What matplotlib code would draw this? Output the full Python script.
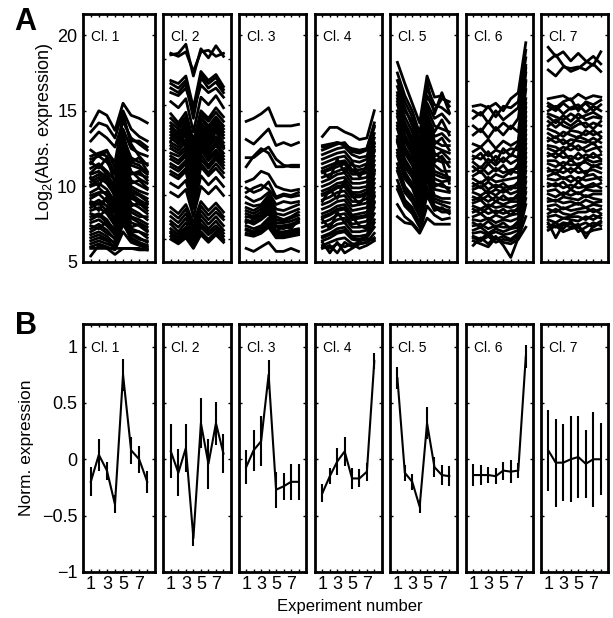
import matplotlib
matplotlib.use('Agg')
import matplotlib.pyplot as plt

plt.rcParams['font.family'] = ['Liberation Sans', 'DejaVu Sans']
plt.rcParams['mathtext.fontset'] = 'custom'
plt.rcParams['mathtext.rm'] = 'Liberation Sans'
plt.rcParams['mathtext.it'] = 'Liberation Sans:italic'

experiments = [1, 2, 3, 4, 5, 6, 7, 8]
cluster_labels = ['Cl. 1', 'Cl. 2', 'Cl. 3', 'Cl. 4', 'Cl. 5', 'Cl. 6', 'Cl. 7']
xtick_labels = ['1', '', '3', '', '5', '', '7', '']

abs_cl1 = [
    [14.0, 15.0, 14.7, 13.7, 15.5, 14.7, 14.5, 14.2],
    [13.6, 14.2, 14.0, 13.2, 15.0, 13.8, 13.3, 13.0],
    [13.0, 13.6, 13.2, 12.6, 14.3, 13.2, 12.8, 12.4],
    [12.0, 12.2, 12.4, 11.2, 13.8, 12.5, 12.2, 12.0],
    [11.8, 12.0, 11.6, 10.8, 13.2, 11.9, 11.6, 11.5],
    [11.2, 11.5, 11.0, 10.4, 12.6, 11.4, 11.2, 10.8],
    [10.8, 11.0, 10.6, 9.8, 12.2, 11.0, 10.5, 10.2],
    [10.3, 10.6, 10.2, 9.4, 11.8, 10.4, 10.1, 9.8],
    [10.0, 10.2, 9.8, 9.0, 11.2, 10.0, 9.7, 9.5],
    [9.6, 9.9, 9.4, 8.6, 10.8, 9.6, 9.4, 9.0],
    [9.2, 9.5, 9.0, 8.2, 10.5, 9.2, 9.0, 8.6],
    [8.8, 9.1, 8.7, 7.8, 10.0, 8.9, 8.6, 8.2],
    [8.4, 8.6, 8.2, 7.4, 9.6, 8.5, 8.2, 7.8],
    [8.0, 8.2, 7.8, 7.0, 9.2, 8.0, 7.8, 7.5],
    [7.6, 7.8, 7.4, 6.8, 8.8, 7.6, 7.4, 7.0],
    [7.2, 7.5, 7.1, 6.5, 8.4, 7.2, 7.0, 6.6],
    [6.8, 7.0, 6.7, 6.2, 8.0, 6.9, 6.6, 6.3],
    [6.4, 6.6, 6.4, 6.0, 7.5, 6.6, 6.3, 6.1],
    [6.0, 6.2, 6.0, 5.8, 7.0, 6.3, 6.1, 5.9],
    [5.4, 6.1, 5.9, 5.5, 5.9, 5.9, 5.9, 5.8],
    [5.9, 5.9, 5.9, 5.9, 5.9, 5.9, 5.8, 5.8],
    [11.5, 12.2, 12.0, 10.8, 14.8, 12.8, 12.0, 11.4],
    [10.6, 10.0, 11.0, 9.2, 12.8, 10.8, 11.0, 10.4],
    [8.9, 8.4, 9.3, 7.6, 11.0, 9.4, 8.8, 8.9],
    [11.6, 11.2, 11.9, 10.2, 13.5, 11.6, 11.9, 11.0],
    [10.9, 11.4, 10.8, 10.0, 12.9, 10.9, 10.8, 10.6],
    [10.1, 10.4, 10.6, 9.6, 12.4, 10.2, 10.4, 9.9],
    [9.4, 9.6, 9.6, 8.8, 11.5, 9.8, 9.5, 9.2],
    [9.0, 8.8, 9.2, 8.4, 10.9, 9.5, 9.1, 8.8],
    [8.6, 8.9, 8.4, 7.9, 10.3, 8.7, 8.9, 8.4],
    [8.2, 8.0, 8.5, 7.6, 9.9, 8.3, 8.0, 8.0],
    [7.8, 8.1, 7.6, 7.2, 9.4, 7.9, 7.6, 7.3],
    [7.4, 7.2, 7.7, 6.9, 9.0, 7.3, 7.5, 7.1],
    [7.0, 7.3, 6.9, 6.6, 8.6, 7.0, 7.0, 6.8],
    [6.6, 6.8, 6.5, 6.3, 8.2, 6.8, 6.5, 6.4],
    [6.2, 6.4, 6.2, 6.0, 7.8, 6.4, 6.2, 6.0],
    [12.4, 12.0, 12.3, 11.6, 14.5, 13.0, 13.0, 12.6],
    [10.5, 10.8, 10.4, 9.6, 13.2, 11.6, 11.4, 10.9],
]

abs_cl2 = [
    [18.7, 18.8, 19.4, 17.3, 19.1, 18.5, 19.3, 18.6],
    [18.8, 18.6, 18.9, 17.6, 18.9, 19.0, 18.6, 18.8],
    [17.0, 16.8, 17.3, 15.2, 17.6, 17.0, 17.4, 16.6],
    [16.5, 16.2, 16.8, 14.5, 17.2, 16.5, 16.9, 16.2],
    [16.2, 16.0, 16.5, 15.0, 16.7, 16.2, 16.5, 15.9],
    [14.8, 14.2, 14.9, 13.0, 15.0, 14.5, 15.2, 14.6],
    [14.5, 14.0, 14.6, 12.6, 14.8, 14.3, 14.9, 14.3],
    [14.0, 13.5, 14.2, 12.0, 14.5, 13.8, 14.4, 13.8],
    [13.6, 13.2, 13.8, 11.4, 14.0, 13.4, 14.0, 13.4],
    [13.2, 12.8, 13.4, 10.8, 13.6, 13.0, 13.6, 12.9],
    [12.7, 12.4, 12.9, 10.2, 13.2, 12.6, 13.1, 12.5],
    [12.2, 12.0, 12.4, 9.8, 12.8, 12.1, 12.7, 12.0],
    [11.8, 11.5, 12.0, 9.4, 12.4, 11.7, 12.2, 11.6],
    [11.3, 11.0, 11.5, 9.0, 11.8, 11.2, 11.8, 11.2],
    [10.8, 10.5, 11.0, 8.8, 11.3, 10.7, 11.2, 10.6],
    [10.2, 9.9, 10.4, 8.5, 10.7, 10.1, 10.6, 10.0],
    [9.6, 9.3, 9.8, 8.0, 10.0, 9.5, 10.0, 9.4],
    [8.6, 8.2, 8.8, 7.6, 9.0, 8.4, 8.9, 8.3],
    [8.0, 7.6, 8.2, 7.2, 8.4, 7.8, 8.3, 7.8],
    [7.5, 7.0, 7.6, 6.6, 7.8, 7.2, 7.7, 7.1],
    [7.0, 6.6, 7.1, 6.3, 7.3, 6.8, 7.2, 6.7],
    [6.5, 6.2, 6.6, 5.9, 6.8, 6.3, 6.8, 6.3],
    [6.9, 6.4, 6.9, 6.2, 7.0, 6.5, 7.0, 6.5],
    [13.0, 13.8, 12.6, 11.8, 13.4, 12.4, 13.8, 12.6],
    [14.2, 13.8, 14.4, 12.3, 14.6, 14.0, 14.6, 14.0],
    [13.8, 13.4, 14.0, 11.7, 14.2, 13.6, 14.2, 13.6],
    [13.4, 13.0, 13.6, 11.1, 13.8, 13.2, 13.8, 13.2],
    [12.9, 12.6, 13.1, 10.5, 13.4, 12.8, 13.3, 12.7],
    [12.5, 12.2, 12.6, 10.0, 13.0, 12.3, 12.9, 12.2],
    [12.0, 11.7, 12.2, 9.6, 12.6, 11.9, 12.4, 11.8],
    [11.5, 11.2, 11.7, 9.2, 12.1, 11.4, 12.0, 11.4],
    [11.0, 10.7, 11.2, 8.9, 11.5, 10.9, 11.5, 10.9],
    [8.3, 7.9, 8.5, 7.4, 8.7, 8.1, 8.6, 8.0],
    [7.7, 7.3, 7.9, 6.9, 8.1, 7.5, 8.0, 7.4],
    [7.2, 6.8, 7.3, 6.4, 7.5, 7.0, 7.4, 6.9],
    [6.7, 6.3, 6.8, 6.1, 7.0, 6.4, 6.9, 6.4],
    [16.8, 16.5, 17.0, 14.8, 17.4, 16.8, 17.2, 16.4],
    [15.6, 15.2, 15.8, 13.6, 15.9, 15.4, 16.0, 15.2],
]

abs_cl3 = [
    [14.3, 14.5, 14.8, 15.2, 14.0, 14.0, 14.0, 14.1],
    [13.1, 12.8, 13.3, 13.8, 12.7, 12.9, 12.7, 12.9],
    [11.9, 11.9, 12.3, 12.6, 11.8, 11.4, 11.3, 11.3],
    [11.3, 12.0, 12.5, 12.2, 11.3, 11.3, 11.4, 11.4],
    [10.3, 10.5, 11.0, 10.8, 10.0, 9.8, 9.7, 9.8],
    [9.9, 9.6, 9.8, 10.3, 9.3, 9.5, 9.4, 9.6],
    [9.6, 9.9, 10.1, 9.8, 9.2, 9.4, 9.3, 9.4],
    [9.3, 9.0, 9.2, 9.6, 8.8, 9.0, 8.9, 9.0],
    [8.9, 8.7, 8.8, 9.4, 8.5, 8.4, 8.6, 8.8],
    [8.4, 8.2, 8.5, 9.0, 8.0, 7.8, 8.0, 8.3],
    [8.0, 7.9, 8.1, 8.6, 7.6, 7.6, 7.7, 7.9],
    [7.6, 7.8, 8.0, 8.3, 7.0, 7.4, 7.2, 7.8],
    [7.7, 7.5, 7.8, 8.2, 7.3, 7.2, 7.4, 7.6],
    [7.4, 7.2, 7.4, 7.9, 7.0, 7.0, 7.1, 7.2],
    [7.1, 6.9, 7.1, 7.6, 6.8, 6.8, 6.9, 7.0],
    [6.8, 6.7, 6.9, 7.3, 6.6, 6.6, 6.7, 6.8],
    [5.9, 5.7, 6.0, 6.3, 5.7, 5.7, 5.9, 5.7],
    [8.6, 8.4, 8.7, 9.2, 8.2, 8.1, 8.3, 8.5],
    [8.2, 8.0, 8.3, 8.8, 7.8, 7.7, 7.9, 8.1],
    [7.8, 7.6, 7.9, 8.4, 7.4, 7.4, 7.5, 7.7],
    [7.2, 7.0, 7.3, 7.8, 6.9, 6.9, 7.0, 7.1],
    [6.9, 6.8, 7.0, 7.4, 6.7, 6.7, 6.8, 6.9],
]

abs_cl4 = [
    [13.3, 13.9, 13.9, 13.6, 13.4, 13.1, 13.2, 15.0],
    [12.7, 12.8, 12.9, 12.7, 12.5, 12.4, 12.5, 14.2],
    [12.4, 12.6, 12.8, 12.9, 12.3, 12.2, 12.4, 13.9],
    [12.1, 12.3, 12.5, 12.6, 12.1, 11.9, 12.0, 13.5],
    [11.8, 12.0, 12.2, 12.3, 11.7, 11.6, 11.8, 13.2],
    [11.5, 11.7, 11.9, 12.0, 11.4, 11.3, 11.5, 12.9],
    [11.2, 11.4, 11.6, 11.7, 11.1, 11.1, 11.2, 12.6],
    [10.9, 11.1, 11.3, 11.5, 10.8, 10.8, 10.9, 12.3],
    [10.6, 10.8, 11.0, 11.2, 10.5, 10.5, 10.6, 12.0],
    [10.3, 10.5, 10.8, 10.9, 10.2, 10.2, 10.3, 11.7],
    [10.0, 10.2, 10.5, 10.6, 9.9, 9.9, 10.0, 11.4],
    [9.7, 9.9, 10.2, 10.3, 9.6, 9.6, 9.8, 11.1],
    [9.4, 9.6, 9.9, 10.0, 9.3, 9.3, 9.5, 10.8],
    [9.1, 9.3, 9.6, 9.7, 9.0, 9.0, 9.2, 10.5],
    [8.8, 9.0, 9.3, 9.4, 8.7, 8.8, 8.9, 10.2],
    [8.5, 8.7, 9.0, 9.1, 8.4, 8.5, 8.6, 9.9],
    [8.2, 8.4, 8.7, 8.8, 8.1, 8.2, 8.3, 9.6],
    [7.9, 8.1, 8.4, 8.5, 7.8, 7.9, 8.0, 9.3],
    [7.6, 7.8, 8.1, 8.2, 7.5, 7.6, 7.7, 9.0],
    [7.3, 7.5, 7.8, 7.9, 7.3, 7.3, 7.4, 8.6],
    [7.0, 7.2, 7.5, 7.6, 7.0, 7.0, 7.1, 8.2],
    [6.7, 6.9, 7.2, 7.3, 6.7, 6.7, 6.8, 7.8],
    [6.4, 6.6, 6.9, 7.0, 6.5, 6.4, 6.6, 7.3],
    [6.1, 6.3, 6.5, 6.6, 6.2, 6.2, 6.3, 6.9],
    [6.0, 5.9, 6.2, 6.0, 6.2, 5.9, 6.1, 6.4],
    [6.3, 5.6, 6.3, 5.6, 5.9, 6.2, 6.3, 6.6],
    [5.9, 6.1, 5.6, 6.3, 6.0, 6.4, 6.5, 6.5],
    [11.0, 10.5, 11.8, 10.9, 11.6, 10.6, 11.4, 12.8],
    [9.0, 9.8, 9.2, 10.4, 9.4, 8.8, 9.6, 11.0],
    [7.8, 7.2, 8.3, 7.6, 8.0, 7.4, 7.2, 8.9],
    [12.6, 12.7, 12.9, 12.8, 12.4, 12.3, 12.5, 14.0],
    [11.0, 11.2, 11.5, 11.6, 11.0, 10.9, 11.0, 12.4],
    [9.5, 9.7, 10.0, 10.1, 9.5, 9.4, 9.6, 11.0],
    [8.0, 8.2, 8.5, 8.6, 8.0, 8.0, 8.1, 9.4],
    [6.6, 6.8, 7.0, 7.1, 6.6, 6.5, 6.7, 7.6],
]

abs_cl5 = [
    [18.2, 16.8, 15.5, 14.2, 17.3, 15.9, 16.0, 15.3],
    [17.0, 15.6, 14.6, 13.0, 16.0, 15.0, 15.8, 15.6],
    [16.6, 15.2, 14.0, 12.6, 15.5, 14.5, 14.8, 14.2],
    [16.2, 14.6, 13.6, 12.2, 15.2, 14.0, 13.8, 13.6],
    [15.8, 14.2, 13.2, 11.8, 14.8, 13.3, 13.5, 13.0],
    [15.4, 13.8, 12.8, 11.4, 14.6, 13.0, 12.7, 12.7],
    [15.0, 13.4, 12.5, 11.0, 14.2, 12.6, 12.4, 12.2],
    [14.6, 13.0, 12.1, 10.7, 13.8, 12.0, 12.3, 11.8],
    [14.2, 12.6, 11.8, 10.4, 13.4, 11.8, 11.6, 11.6],
    [13.8, 12.2, 11.4, 10.0, 13.0, 11.4, 11.0, 11.0],
    [13.3, 11.8, 11.0, 9.6, 12.6, 11.0, 10.8, 10.6],
    [12.9, 11.3, 10.6, 9.3, 12.2, 10.5, 10.3, 10.4],
    [12.4, 10.9, 10.2, 9.0, 11.8, 10.2, 10.0, 9.9],
    [12.0, 10.5, 9.9, 8.6, 11.4, 9.8, 9.7, 9.6],
    [11.5, 10.0, 9.4, 8.3, 11.0, 9.4, 9.2, 9.2],
    [11.0, 9.6, 9.0, 8.0, 10.5, 9.0, 8.8, 8.6],
    [10.4, 9.1, 8.6, 7.6, 10.0, 8.7, 8.5, 8.4],
    [9.8, 8.7, 8.2, 7.3, 9.4, 8.4, 8.6, 8.2],
    [8.8, 8.0, 7.6, 7.0, 8.7, 8.1, 7.8, 7.9],
    [8.0, 7.6, 7.5, 6.9, 7.9, 7.5, 7.5, 7.5],
    [16.0, 15.0, 14.3, 12.4, 16.9, 14.8, 16.2, 14.9],
    [13.0, 11.0, 10.0, 9.5, 14.0, 12.2, 11.8, 10.2],
    [17.5, 16.0, 15.0, 13.5, 16.5, 15.4, 15.2, 14.8],
    [15.6, 14.0, 13.0, 11.6, 14.7, 13.6, 14.4, 13.4],
    [14.8, 13.2, 12.3, 10.9, 14.0, 12.8, 13.2, 12.4],
    [14.0, 12.4, 11.6, 10.2, 13.2, 11.6, 12.0, 11.3],
    [13.1, 11.6, 10.8, 9.5, 12.4, 10.8, 10.6, 10.5],
    [12.2, 10.7, 10.0, 8.8, 11.6, 10.0, 10.2, 9.7],
    [11.2, 9.8, 9.2, 8.2, 10.8, 9.2, 9.0, 8.9],
    [10.0, 8.9, 8.4, 7.4, 9.7, 8.6, 8.3, 8.3],
]

abs_cl6 = [
    [15.3, 15.4, 15.2, 15.5, 15.0, 15.8, 16.2, 19.5],
    [15.0, 14.7, 15.3, 14.6, 15.3, 15.2, 15.6, 19.0],
    [14.5, 14.9, 14.2, 15.0, 14.4, 14.8, 15.2, 18.5],
    [14.0, 13.6, 14.3, 13.7, 14.2, 13.8, 14.5, 18.0],
    [13.4, 13.8, 13.2, 13.9, 13.4, 14.0, 13.6, 17.5],
    [12.8, 12.6, 13.1, 12.5, 13.0, 12.7, 13.0, 17.0],
    [12.0, 11.8, 12.3, 11.6, 12.5, 12.0, 12.8, 17.8],
    [12.3, 12.6, 12.0, 12.4, 12.2, 12.5, 12.4, 16.4],
    [11.6, 11.2, 11.8, 11.4, 11.9, 11.5, 11.8, 15.8],
    [11.0, 11.3, 10.8, 11.2, 10.9, 11.1, 11.2, 15.2],
    [10.5, 10.2, 10.6, 10.3, 10.4, 10.5, 10.6, 14.6],
    [10.0, 10.3, 9.8, 10.1, 9.9, 10.0, 10.1, 14.0],
    [9.6, 9.4, 9.7, 9.4, 9.8, 9.5, 9.7, 13.4],
    [9.1, 9.3, 9.0, 9.3, 9.1, 9.2, 9.2, 12.8],
    [8.7, 8.5, 8.8, 8.6, 8.7, 8.6, 8.8, 12.2],
    [8.3, 8.5, 8.2, 8.4, 8.2, 8.4, 8.4, 11.6],
    [7.8, 7.7, 7.9, 7.6, 7.8, 7.7, 7.9, 11.0],
    [7.4, 7.5, 7.2, 7.4, 7.3, 7.3, 7.5, 10.3],
    [6.9, 7.0, 6.8, 7.0, 6.8, 6.9, 7.1, 9.6],
    [6.6, 6.4, 6.7, 6.3, 6.5, 6.4, 6.7, 8.8],
    [6.1, 6.6, 6.2, 6.7, 6.1, 5.3, 6.6, 8.0],
    [6.4, 6.2, 6.0, 6.6, 6.3, 6.2, 6.5, 7.3],
    [11.8, 12.2, 11.5, 12.0, 11.6, 12.1, 11.9, 16.9],
    [11.3, 10.9, 11.5, 11.0, 11.4, 10.8, 11.5, 15.5],
    [10.7, 11.0, 10.4, 10.8, 10.6, 11.0, 10.9, 14.9],
    [10.2, 9.9, 10.3, 9.9, 10.2, 9.8, 10.3, 14.3],
    [9.8, 10.0, 9.5, 9.8, 9.6, 9.9, 9.9, 13.7],
    [9.3, 9.1, 9.4, 9.0, 9.4, 9.0, 9.5, 13.1],
    [8.9, 9.1, 8.6, 9.0, 8.8, 9.0, 9.0, 12.5],
    [8.5, 8.2, 8.6, 8.2, 8.5, 8.1, 8.6, 11.9],
    [8.0, 8.2, 7.8, 8.1, 7.9, 8.1, 8.2, 11.3],
    [7.6, 7.3, 7.7, 7.3, 7.6, 7.2, 7.7, 10.6],
    [7.1, 7.3, 6.9, 7.2, 7.0, 7.2, 7.3, 9.9],
    [6.7, 6.5, 6.9, 6.5, 6.7, 6.5, 6.9, 9.2],
]

abs_cl7 = [
    [19.2, 18.6, 18.9, 18.3, 18.8, 18.3, 18.0, 18.9],
    [18.3, 18.7, 18.0, 17.6, 17.8, 18.2, 18.6, 18.1],
    [17.7, 17.3, 17.9, 17.8, 17.9, 17.7, 18.1, 17.6],
    [15.8, 15.9, 16.0, 15.7, 16.1, 15.8, 16.0, 15.9],
    [15.5, 15.2, 15.6, 15.8, 15.0, 15.6, 15.4, 15.7],
    [15.0, 15.3, 14.8, 15.2, 15.4, 14.9, 15.3, 15.0],
    [14.6, 14.2, 14.7, 14.3, 14.8, 14.4, 14.6, 14.5],
    [14.0, 14.4, 14.0, 13.8, 14.1, 14.2, 13.8, 14.3],
    [13.5, 13.2, 13.6, 13.4, 13.2, 13.7, 13.4, 13.6],
    [13.0, 13.3, 12.8, 13.1, 13.0, 12.9, 13.2, 12.9],
    [12.5, 12.3, 12.6, 12.4, 12.7, 12.3, 12.5, 12.6],
    [12.0, 12.2, 11.9, 12.0, 11.8, 12.1, 11.9, 12.1],
    [11.5, 11.3, 11.6, 11.4, 11.5, 11.6, 11.3, 11.5],
    [11.0, 11.1, 10.9, 11.2, 10.9, 11.0, 11.1, 10.9],
    [10.5, 10.4, 10.6, 10.3, 10.6, 10.4, 10.5, 10.6],
    [10.0, 10.2, 9.9, 10.1, 9.9, 10.0, 10.2, 9.9],
    [9.5, 9.3, 9.6, 9.4, 9.6, 9.3, 9.5, 9.5],
    [9.0, 9.1, 8.9, 9.0, 8.8, 9.1, 8.9, 9.0],
    [8.5, 8.3, 8.6, 8.4, 8.5, 8.6, 8.3, 8.5],
    [8.0, 8.1, 7.9, 8.0, 8.0, 7.8, 8.1, 7.9],
    [7.5, 7.3, 7.6, 7.5, 7.4, 7.6, 7.3, 7.6],
    [7.1, 7.4, 7.0, 7.2, 7.3, 6.9, 7.1, 7.2],
    [7.6, 6.6, 7.5, 7.3, 7.5, 6.6, 7.4, 7.7],
    [15.3, 15.0, 15.5, 15.1, 15.2, 15.5, 15.0, 15.4],
    [14.8, 14.6, 14.4, 14.8, 14.5, 14.7, 14.9, 14.6],
    [14.3, 13.9, 14.3, 14.0, 14.4, 13.9, 14.2, 14.0],
    [13.8, 13.6, 13.3, 13.7, 13.6, 13.4, 13.7, 13.3],
    [13.2, 12.9, 13.1, 12.7, 13.3, 13.1, 12.8, 13.2],
    [12.7, 12.6, 12.3, 12.8, 12.4, 12.6, 12.9, 12.3],
    [12.2, 11.9, 12.3, 11.7, 12.2, 11.8, 12.2, 11.8],
    [11.7, 11.7, 11.3, 11.8, 11.3, 11.8, 11.6, 11.7],
    [11.2, 10.8, 11.3, 10.9, 11.3, 10.8, 11.4, 11.2],
    [10.7, 10.9, 10.5, 10.7, 10.3, 10.7, 10.8, 10.4],
    [10.2, 10.0, 10.3, 9.8, 10.3, 9.9, 10.0, 10.2],
    [9.7, 9.8, 9.4, 9.8, 9.5, 9.8, 9.7, 9.7],
    [9.2, 9.0, 9.3, 9.2, 9.1, 9.4, 9.2, 9.1],
    [8.7, 8.8, 8.5, 8.7, 8.9, 8.6, 8.8, 8.7],
    [8.2, 8.5, 8.2, 8.1, 8.3, 8.3, 8.5, 8.2],
    [7.8, 7.6, 7.9, 7.8, 7.7, 8.0, 7.8, 8.1],
    [7.3, 7.6, 7.2, 7.7, 7.0, 7.3, 7.6, 7.4],
]

abs_expr = [abs_cl1, abs_cl2, abs_cl3, abs_cl4, abs_cl5, abs_cl6, abs_cl7]

norm_mean = [
    [-0.20, 0.04, -0.10, -0.40, 0.75, 0.08, 0.00, -0.20],
    [0.07, -0.12, 0.10, -0.70, 0.32, -0.04, 0.32, 0.05],
    [-0.07, 0.08, 0.16, 0.75, -0.27, -0.24, -0.20, -0.20],
    [-0.30, -0.15, -0.02, 0.07, -0.17, -0.17, -0.11, 0.87],
    [0.72, -0.12, -0.20, -0.42, 0.32, -0.07, -0.14, -0.15],
    [-0.14, -0.14, -0.14, -0.15, -0.10, -0.11, -0.10, 0.91],
    [0.08, -0.03, -0.03, 0.00, 0.02, -0.04, 0.00, 0.00],
]
norm_err = [
    [0.13, 0.14, 0.08, 0.08, 0.14, 0.12, 0.12, 0.10],
    [0.24, 0.21, 0.21, 0.07, 0.22, 0.22, 0.19, 0.17],
    [0.15, 0.18, 0.22, 0.13, 0.16, 0.12, 0.16, 0.16],
    [0.08, 0.07, 0.12, 0.13, 0.09, 0.08, 0.08, 0.07],
    [0.10, 0.07, 0.07, 0.06, 0.14, 0.09, 0.09, 0.09],
    [0.10, 0.09, 0.07, 0.07, 0.08, 0.10, 0.07, 0.10],
    [0.36, 0.39, 0.34, 0.38, 0.36, 0.30, 0.42, 0.32],
]

top_yticks = [
    [5, 10, 15, 20],
    [6.5, 9.4, 12.4, 15.4, 18.4],
    [5, 10, 15, 20],
    [5, 10, 15, 20],
    [5, 10, 15, 20],
    [8, 11, 14, 17, 20],
    [5, 10, 15, 20],
]
top_yticklabels = ['5', '10', '15', '20']
bottom_yticks = [-1, -0.5, 0, 0.5, 1]
bottom_yticklabels = ['\u22121', '\u22120.5', '0', '0.5', '1']

W, H = 613, 618
fig = plt.figure(figsize=(W / 100, H / 100), dpi=100)

panel_x = [(82.7, 155.3), (163.3, 231.0), (238.7, 306.0), (315.0, 381.7),
           (390.0, 456.7), (465.7, 533.3), (540.7, 608.3)]
top_row = (14.0, 262.0)
bot_row = (324.0, 572.0)


def add_axes(x0, x1, ytop, ybot):
    return fig.add_axes([x0 / W, 1 - ybot / H, (x1 - x0) / W, (ybot - ytop) / H])


def style(ax):
    for s in ax.spines.values():
        s.set_linewidth(2.0)
    ax.tick_params(direction='in', length=2.5, width=1.0, top=True, right=True,
                   labelsize=13, pad=4)
    ax.set_xlim(0, 9)
    ax.set_xticks(experiments)


for i in range(7):
    x0, x1 = panel_x[i]
    # Top row: absolute expression profiles
    ax = add_axes(x0, x1, *top_row)
    style(ax)
    for row in abs_expr[i]:
        ax.plot(experiments, row, color='k', lw=2.0)
    ax.set_ylim(5, 21.4)
    ax.set_xticklabels([])
    if i == 0:
        ax.set_yticks([5, 10, 15, 20])
        ax.set_yticklabels(top_yticklabels)
    else:
        ax.set_yticks(top_yticks[i])
        ax.set_yticklabels([])
    ax.annotate(cluster_labels[i], xy=(0, 1), xycoords='axes fraction',
                xytext=(5.8, -16.3), textcoords='offset points',
                ha='left', va='center', fontsize=10)

    # Bottom row: normalised mean +/- spread
    ax = add_axes(x0, x1, *bot_row)
    style(ax)
    ax.errorbar(experiments, norm_mean[i], yerr=norm_err[i], color='k',
                lw=1.5, elinewidth=1.5, capsize=0)
    ax.set_ylim(-1, 1.2)
    ax.set_yticks(bottom_yticks)
    ax.set_xticklabels(xtick_labels)
    ax.tick_params(axis='x', pad=3)
    if i == 0:
        ax.set_yticklabels(bottom_yticklabels)
    else:
        ax.set_yticklabels([])
    ax.annotate(cluster_labels[i], xy=(0, 1), xycoords='axes fraction',
                xytext=(5.8, -17.3), textcoords='offset points',
                ha='left', va='center', fontsize=10)

fig.text(45 / W, 1 - 132 / H, 'Log$_2$(Abs. expression)', rotation=90,
         ha='center', va='center', fontsize=13)
fig.text(26 / W, 1 - 448 / H, 'Norm. expression', rotation=90,
         ha='center', va='center', fontsize=12.5)
fig.text(350 / W, 1 - 606 / H, 'Experiment number', ha='center', va='center',
         fontsize=12)
fig.text(25 / W, 1 - 22 / H, 'A', ha='center', va='center', fontsize=22,
         fontweight='bold')
fig.text(26 / W, 1 - 326 / H, 'B', ha='center', va='center', fontsize=22,
         fontweight='bold')

fig.savefig('out.png', dpi=100)
